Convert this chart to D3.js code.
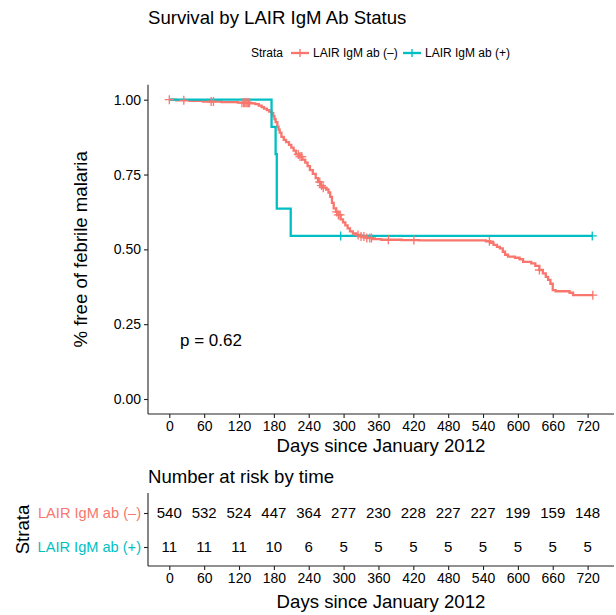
<!DOCTYPE html>
<html>
<head>
<meta charset="utf-8">
<script src="https://cdn.jsdelivr.net/npm/d3@7"></script>
<style>
  html, body { margin: 0; padding: 0; background: #fff; }
  svg text { font-family: "Liberation Sans", Arial, Helvetica, sans-serif; }
</style>
</head>
<body>
<svg id="chart" width="616" height="615"></svg>
<script>
// ---- data ----
const strata = ["LAIR IgM ab (\u2013)", "LAIR IgM ab (+)"];
const colors = ["#F8766D", "#00BFC4"];

// Kaplan–Meier steps [day, survival] for the antibody-negative group
const negSteps = [
  [0,1.000],[12,0.998],[35,0.996],[58,0.994],[90,0.992],[118,0.990],[140,0.988],
  [148,0.985],[154,0.980],[159,0.975],[163,0.970],[168,0.965],[172,0.960],[176,0.955],
  [179,0.945],[181,0.935],[183,0.925],[186,0.910],[188,0.900],[190,0.890],[193,0.876],
  [197,0.866],[201,0.858],[206,0.849],[210,0.840],[214,0.830],[218,0.817],[224,0.810],
  [229,0.800],[234,0.790],[238,0.778],[242,0.765],[247,0.752],[252,0.738],[256,0.725],
  [260,0.713],[265,0.706],[270,0.700],[274,0.690],[277,0.675],[280,0.655],[283,0.637],
  [287,0.625],[291,0.615],[295,0.600],[299,0.590],[303,0.580],[307,0.570],[311,0.560],
  [316,0.553],[322,0.548],[330,0.543],[340,0.538],[350,0.534],[365,0.532],[400,0.531],
  [430,0.530],[545,0.527],[552,0.522],[558,0.515],[564,0.508],[569,0.503],[574,0.492],
  [578,0.482],[583,0.476],[595,0.472],[603,0.467],[609,0.458],[623,0.453],[630,0.445],
  [637,0.431],[643,0.420],[648,0.408],[652,0.398],[656,0.385],[660,0.364],[665,0.360],
  [689,0.355],[695,0.347],[729,0.347]
];
const negCensor = [0,25,72,76,125,128,130,132,134,136,138,222,225,228,259,262,265,
  288,291,294,325,330,335,340,345,348,377,421,551,637,729];

// Kaplan–Meier steps for the antibody-positive group
const posSteps = [[0,1.000],[176,0.909],[183,0.818],[185,0.636],[209,0.545],[728,0.545]];
const posCensor = [295,728];

const xTicks = [0,60,120,180,240,300,360,420,480,540,600,660,720];
const yTicks = [0,0.25,0.5,0.75,1];
const riskNeg = [540,532,524,447,364,277,230,228,227,227,199,159,148];
const riskPos = [11,11,11,10,6,5,5,5,5,5,5,5,5];
const pValueLabel = "p = 0.62";

// ---- layout ----
const svg = d3.select("#chart");
const ink = "#000";
const panel = {left: 148, right: 614, top: 84.7, bottom: 414};
const x = d3.scaleLinear().domain([0, 720]).range([169.3, 587.6]);
const y = d3.scaleLinear().domain([0, 1]).range([399, 99.7]);

// title
svg.append("text").attr("x", 148).attr("y", 24).attr("font-size", 18.6)
  .attr("fill", ink).text("Survival by LAIR IgM Ab Status");

// legend
const leg = svg.append("g").attr("transform", "translate(0,53)");
leg.append("text").attr("x", 251).attr("y", 4.3).attr("font-size", 12).attr("fill", ink).text("Strata");
const legItems = [{x0: 291, label: strata[0], c: colors[0], tx: 313},
                  {x0: 403, label: strata[1], c: colors[1], tx: 425}];
legItems.forEach(d => {
  leg.append("line").attr("x1", d.x0).attr("x2", d.x0 + 18).attr("y1", 0).attr("y2", 0)
    .attr("stroke", d.c).attr("stroke-width", 2.3);
  leg.append("line").attr("x1", d.x0 + 9).attr("x2", d.x0 + 9).attr("y1", -4).attr("y2", 4)
    .attr("stroke", d.c).attr("stroke-width", 1.4);
  leg.append("text").attr("x", d.tx).attr("y", 4.3).attr("font-size", 12).attr("fill", ink).text(d.label);
});

// axes for survival panel
const main = svg.append("g");
main.append("g").attr("transform", `translate(${panel.left},0)`)
  .call(d3.axisLeft(y).tickValues(yTicks).tickFormat(d3.format(".2f")).tickSize(4).tickPadding(3))
  .call(g => g.select(".domain").attr("d", `M0,${panel.top}V${panel.bottom}`));
main.append("g").attr("transform", `translate(0,${panel.bottom})`)
  .call(d3.axisBottom(x).tickValues(xTicks).tickSize(4).tickPadding(3))
  .call(g => g.select(".domain").attr("d", `M${panel.left},0H${panel.right}`));
main.selectAll(".tick text").attr("font-size", 14).attr("fill", ink)
  .attr("font-family", "Liberation Sans, Arial, sans-serif");
main.selectAll(".domain, .tick line").attr("stroke", "#222").attr("stroke-width", 1.1);

main.append("text").attr("x", (panel.left + panel.right) / 2).attr("y", 452)
  .attr("text-anchor", "middle").attr("font-size", 18.6).attr("fill", ink).text("Days since January 2012");
main.append("text").attr("transform", `translate(87,${(panel.top + panel.bottom) / 2}) rotate(-90)`)
  .attr("text-anchor", "middle").attr("font-size", 18.6).attr("fill", ink).text("% free of febrile malaria");

// survival curves
const line = d3.line().x(d => x(d[0])).y(d => y(d[1])).curve(d3.curveStepAfter);
const survAt = (steps, t) => { let s = steps[0][1]; for (const p of steps) { if (p[0] <= t) s = p[1]; } return s; };
const groups = [{steps: negSteps, cens: negCensor, c: colors[0]},
                {steps: posSteps, cens: posCensor, c: colors[1]}];
groups.forEach(gr => {
  main.append("path").datum(gr.steps).attr("d", line).attr("fill", "none")
    .attr("stroke", gr.c).attr("stroke-width", 2.3);
});
groups.forEach(gr => {
  main.append("g").selectAll("path").data(gr.cens).join("path")
    .attr("d", t => { const cx = x(t), cy = y(survAt(gr.steps, t));
      return `M${cx - 4.5},${cy}H${cx + 4.5}M${cx},${cy - 4.5}V${cy + 4.5}`; })
    .attr("stroke", gr.c).attr("stroke-width", 1.3).attr("fill", "none");
});

main.append("text").attr("x", 180).attr("y", 345.5).attr("font-size", 17).attr("fill", ink).text(pValueLabel);

// ---- risk table ----
const tab = {top: 493, bottom: 566};
const rowY = [513, 547];
const risk = svg.append("g");
risk.append("text").attr("x", 148).attr("y", 483).attr("font-size", 18.6).attr("fill", ink).text("Number at risk by time");

risk.append("g").attr("transform", `translate(0,${tab.bottom})`)
  .call(d3.axisBottom(x).tickValues(xTicks).tickSize(4).tickPadding(3))
  .call(g => g.select(".domain").attr("d", `M${panel.left},0H${panel.right}`));
const yRow = d3.scalePoint().domain(strata).range(rowY);
risk.append("g").attr("class", "rowaxis").attr("transform", `translate(${panel.left},0)`)
  .call(d3.axisLeft(yRow).tickSize(4).tickPadding(3))
  .call(g => g.select(".domain").attr("d", `M0,${tab.top}V${tab.bottom}`));
risk.selectAll(".tick text").attr("font-size", 14).attr("fill", ink)
  .attr("font-family", "Liberation Sans, Arial, sans-serif");
risk.selectAll(".rowaxis .tick text").attr("font-size", 14.6).attr("fill", (d, i) => colors[i]);
risk.selectAll(".domain, .tick line").attr("stroke", "#222").attr("stroke-width", 1.1);

[riskNeg, riskPos].forEach((vals, r) => {
  risk.append("g").selectAll("text").data(vals).join("text")
    .attr("x", (d, i) => x(xTicks[i])).attr("y", yRow(strata[r])).attr("dy", "0.36em")
    .attr("text-anchor", "middle").attr("font-size", 15).attr("fill", ink).text(d => d);
});

risk.append("text").attr("x", (panel.left + panel.right) / 2).attr("y", 608)
  .attr("text-anchor", "middle").attr("font-size", 18.6).attr("fill", ink).text("Days since January 2012");
risk.append("text").attr("transform", `translate(29,${(tab.top + tab.bottom) / 2}) rotate(-90)`)
  .attr("text-anchor", "middle").attr("font-size", 18.6).attr("fill", ink).text("Strata");
</script>
</body>
</html>
